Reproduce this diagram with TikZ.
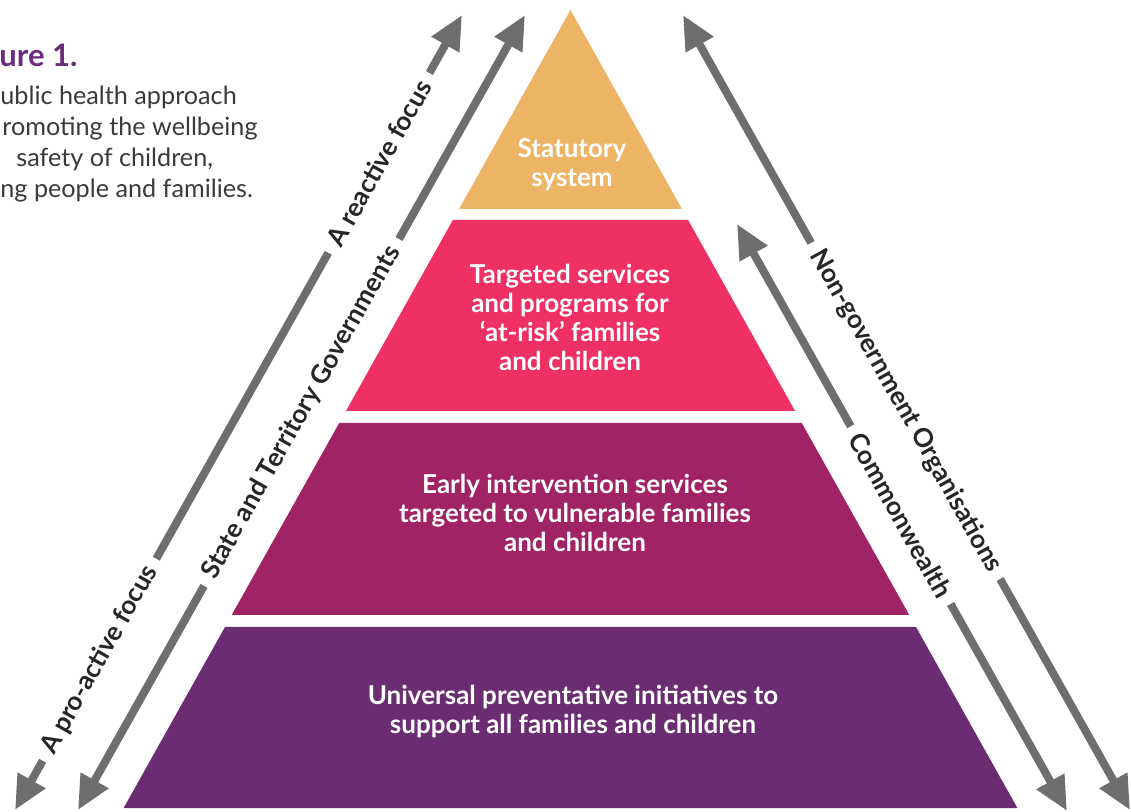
\documentclass[tikz,border=0pt]{standalone}
\usepackage{fontspec}
\setmainfont{Lato}
\usetikzlibrary{arrows.meta}

\definecolor{statcol}{RGB}{236,180,100}
\definecolor{targcol}{RGB}{238,48,98}
\definecolor{earlycol}{RGB}{160,35,102}
\definecolor{univcol}{RGB}{107,45,114}
\definecolor{arrowgray}{RGB}{109,110,112}
\definecolor{labelcol}{RGB}{38,38,40}
\definecolor{captioncol}{RGB}{58,58,60}
\definecolor{titlecol}{RGB}{107,45,123}

\begin{document}
\begin{tikzpicture}[
    x=0.5pt, y=-0.5pt,
    tier/.style={text=white, align=center, inner sep=0pt, font=\fontsize{13}{14.5}\selectfont\bfseries},
    side/.style={sloped, fill=white, text=labelcol, inner xsep=5pt, inner ysep=2pt, font=\fontsize{13}{15}\selectfont\bfseries},
    twoway/.style={{Triangle[length=17pt,width=15pt]}-{Triangle[length=17pt,width=15pt]}, line width=4pt, draw=arrowgray},
    caption/.style={anchor=base west, inner sep=0pt, text=captioncol, font=\fontsize{12.6}{15}\selectfont}
]
\useasboundingbox (0,0) rectangle (1131,812);
\clip (0,0) rectangle (1131,812);

% Arrow ends
\coordinate (lo-top) at (462,15);
\coordinate (lo-bot) at (15,810);
\coordinate (li-top) at (525,15);
\coordinate (li-bot) at (78,810);
\coordinate (ri-top) at (737,224);
\coordinate (ri-bot) at (1067,811);
\coordinate (ro-top) at (683,15);
\coordinate (ro-bot) at (1130,810);

% Side arrows
\draw[twoway] (lo-top) -- node[side,pos=0.186] (reactive) {A reactive focus}
                          node[side,pos=0.811] (proactive) {A pro-active focus} (lo-bot);
\draw[twoway] (li-top) -- node[side,pos=0.5] (state) {State and Territory Governments} (li-bot);
\draw[twoway] (ri-top) -- node[side,pos=0.496] (commonwealth) {Commonwealth} (ri-bot);
\draw[twoway] (ro-top) -- node[side,pos=0.498] (ngo) {Non-government Organisations} (ro-bot);

% Pyramid bands
\foreach \yt/\yb/\bandcol in {10/209/statcol, 220/411/targcol, 423/615/earlycol, 627/808/univcol} {
    \fill[\bandcol] ({570.5-0.56*(\yt-10)},\yt) -- ({570.5+0.56*(\yt-10)},\yt)
        -- ({570.5+0.56*(\yb-10)},\yb) -- ({570.5-0.56*(\yb-10)},\yb) -- cycle;
}

% Band labels
\node[tier] (statutory) at (572,165) {Statutory\\system};
\node[tier] (targeted) at (570,317) {Targeted services\\and programs for\\‘at-risk’ families\\and children};
\node[tier] (early) at (575,513) {Early intervention services\\targeted to vulnerable families\\and children};
\node[tier] (universal) at (573,712) {Universal preventative initiatives to\\support all families and children};

% Caption
\node[anchor=base west, inner sep=0pt, text=titlecol, font=\fontsize{15.5}{18}\selectfont\bfseries] (title) at (-1,67) {ure 1.};
\node[caption] (cap1) at (0,105) {ublic health approach};
\node[caption] (cap2) at (2,136) {romoting the wellbeing};
\node[caption] (cap3) at (16,167) {safety of children,};
\node[caption] (cap4) at (0,198) {ng people and families.};

\end{tikzpicture}
\end{document}
